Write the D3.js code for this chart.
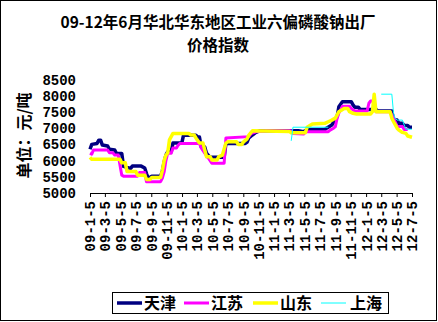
<!DOCTYPE html>
<html>
<head>
<meta charset="utf-8">
<script src="https://cdn.jsdelivr.net/npm/d3@7"></script>
<style>
body { margin:0; background:#fff; }
svg { display:block; }
</style>
</head>
<body>
<svg id="chart" width="438" height="322"></svg>
<script>
const titleLines = ["09-12年6月华北华东地区工业六偏磷酸钠出厂", "价格指数"];
const yAxisTitle = "单位：元/吨";
const seriesNames = ["天津", "江苏", "山东", "上海"];
const seriesColors = ["#000080", "#FF00FF", "#FFFF00", "#00FFFF"];
const xTickLabels = ["09-1-5","09-3-5","09-5-5","09-7-5","09-9-5","09-11-5","10-1-5","10-3-5","10-5-5","10-7-5","10-9-5","10-11-5","11-1-5","11-3-5","11-5-5","11-7-5","11-9-5","11-11-5","12-1-5","12-3-5","12-5-5","12-7-5"];
const yTicks = [5000,5500,6000,6500,7000,7500,8000,8500];

const tianjin = [["2009-01-05",6350],["2009-01-12",6500],["2009-02-02",6530],["2009-02-09",6630],["2009-02-16",6630],["2009-02-23",6480],["2009-03-16",6450],["2009-03-23",6350],["2009-04-13",6330],["2009-04-20",6220],["2009-05-11",6220],["2009-05-18",5820],["2009-06-15",5760],["2009-06-22",5830],["2009-07-27",5830],["2009-08-10",5770],["2009-08-17",5600],["2009-08-24",5450],["2009-09-07",5520],["2009-10-12",5520],["2009-10-19",5680],["2009-10-26",5950],["2009-11-02",6170],["2009-11-09",6270],["2009-11-23",6270],["2009-11-30",6540],["2010-01-04",6540],["2010-01-11",6790],["2010-03-01",6780],["2010-03-08",6730],["2010-03-15",6730],["2010-03-22",6420],["2010-04-05",6420],["2010-04-12",6230],["2010-04-26",6100],["2010-06-21",6100],["2010-06-28",6530],["2010-09-13",6530],["2010-09-20",6570],["2010-09-27",6700],["2010-10-11",6790],["2010-10-25",6870],["2010-11-08",6920],["2011-04-11",6920],["2011-05-02",6890],["2011-05-16",6960],["2011-07-25",6960],["2011-08-01",7000],["2011-08-22",7100],["2011-09-12",7350],["2011-09-19",7660],["2011-10-03",7820],["2011-11-07",7820],["2011-11-14",7720],["2011-11-21",7650],["2011-12-05",7650],["2011-12-12",7580],["2012-02-13",7580],["2012-02-20",7530],["2012-04-16",7530],["2012-04-23",7250],["2012-05-07",7250],["2012-05-14",7150],["2012-05-28",7150],["2012-06-04",7080],["2012-06-18",7080],["2012-06-25",7030],["2012-07-05",7030]];

const jiangsu = [["2009-01-05",6230],["2009-01-12",6200],["2009-01-19",6330],["2009-03-16",6330],["2009-03-23",6240],["2009-04-06",6240],["2009-04-13",6170],["2009-04-27",6170],["2009-05-04",5860],["2009-05-11",5550],["2009-05-18",5520],["2009-07-13",5520],["2009-07-20",5630],["2009-08-10",5630],["2009-08-17",5350],["2009-10-12",5350],["2009-10-19",5460],["2009-10-26",5650],["2009-11-02",6000],["2009-11-09",6230],["2009-11-23",6230],["2009-11-30",6390],["2009-12-14",6390],["2009-12-21",6480],["2009-12-28",6530],["2010-03-15",6530],["2010-03-22",6390],["2010-04-05",6230],["2010-04-19",6080],["2010-05-03",5920],["2010-06-21",5920],["2010-06-28",6700],["2010-09-27",6740],["2010-10-04",6820],["2010-10-11",6850],["2010-10-25",6890],["2010-12-06",6920],["2011-03-14",6920],["2011-03-21",6840],["2011-05-02",6820],["2011-05-09",6890],["2011-08-08",6890],["2011-08-15",6940],["2011-08-29",7000],["2011-09-05",7050],["2011-09-12",7310],["2011-09-19",7470],["2011-09-26",7560],["2011-10-03",7680],["2011-10-31",7680],["2011-11-07",7610],["2011-11-21",7530],["2012-01-09",7530],["2012-01-16",7770],["2012-01-23",7840],["2012-02-06",7840],["2012-02-13",7510],["2012-04-09",7510],["2012-04-23",7310],["2012-05-07",7050],["2012-05-28",7050],["2012-06-04",6960],["2012-06-18",6960]];

const shandong = [["2009-01-05",6100],["2009-01-12",6040],["2009-05-04",6040],["2009-05-11",5930],["2009-05-25",5930],["2009-06-01",5660],["2009-07-06",5660],["2009-07-13",5550],["2009-08-10",5550],["2009-08-17",5420],["2009-08-31",5420],["2009-09-07",5480],["2009-10-12",5480],["2009-10-19",5700],["2009-10-26",6000],["2009-11-02",6170],["2009-11-09",6230],["2009-11-16",6640],["2009-11-30",6840],["2010-02-01",6840],["2010-02-08",6790],["2010-02-22",6790],["2010-03-01",6700],["2010-03-15",6540],["2010-03-29",6540],["2010-04-05",6330],["2010-04-12",6120],["2010-04-26",6120],["2010-05-03",6020],["2010-05-24",6020],["2010-05-31",6120],["2010-06-14",6170],["2010-06-28",6540],["2010-07-05",6580],["2010-08-09",6580],["2010-08-16",6500],["2010-08-30",6500],["2010-09-06",6580],["2010-09-20",6670],["2010-09-27",6790],["2010-10-11",6920],["2011-03-07",6900],["2011-03-14",6860],["2011-05-09",6860],["2011-05-16",7030],["2011-06-06",7130],["2011-07-25",7150],["2011-08-08",7200],["2011-08-22",7250],["2011-09-05",7310],["2011-09-12",7410],["2011-09-19",7510],["2011-10-10",7610],["2011-10-24",7610],["2011-10-31",7510],["2011-11-14",7460],["2011-11-28",7440],["2012-01-23",7440],["2012-01-30",7510],["2012-02-06",8050],["2012-02-13",7510],["2012-04-09",7510],["2012-04-16",7310],["2012-04-23",7200],["2012-05-07",7000],["2012-05-14",6940],["2012-05-28",6870],["2012-06-11",6840],["2012-06-18",6760],["2012-07-05",6720]];

const shanghai = [["2011-03-14",6610],["2011-03-21",7030],["2011-08-08",7030],["2011-08-15",null],["2012-03-05",8050],["2012-04-16",8050],["2012-04-23",7450],["2012-04-30",7300],["2012-05-07",7250],["2012-05-28",7250],["2012-06-04",7100],["2012-06-11",6970],["2012-07-05",6970]];

const allSeries = [tianjin, jiangsu, shandong, shanghai];
const seriesWidths = [3.5, 3, 3.5, 1];

const parse = d3.timeParse("%Y-%m-%d");
const labelDate = s => { const p = s.split("-"); return new Date(2000 + +p[0], +p[1] - 1, +p[2]); };

const svg = d3.select("#chart");
svg.append("rect").attr("x",0.5).attr("y",0.5).attr("width",436).attr("height",320)
  .attr("fill","#fff").attr("stroke","#000").attr("stroke-width",1);

const cjk = "'Noto Sans CJK SC', sans-serif";
const mono = "'Liberation Mono', 'DejaVu Sans Mono', monospace";

titleLines.forEach((t,i) => svg.append("text").attr("text-anchor","middle")
  .attr("font-family", cjk).attr("font-weight","bold").attr("font-size",15.5)
  .attr("x",218).attr("y",28 + i*22.5).text(t));

const x = d3.scaleTime().domain([labelDate(xTickLabels[0]), labelDate(xTickLabels[xTickLabels.length-1])]).range([90, 412]);
const y = d3.scaleLinear().domain([5000, 8500]).range([193, 79.6]);

// y axis labels (no line)
const yAx = svg.append("g").attr("transform","translate(90,0)")
  .call(d3.axisLeft(y).tickValues(yTicks).tickSize(0).tickPadding(14).tickFormat(d3.format("d")));
yAx.select(".domain").remove();
yAx.selectAll("text").attr("font-family", mono).attr("font-weight","bold").attr("font-size",14).attr("fill","#000");

// x axis
const tickDates = xTickLabels.map(labelDate);
const xAx = svg.append("g").attr("transform","translate(0,193)")
  .call(d3.axisBottom(x).tickValues(tickDates).tickSize(4).tickSizeOuter(0)
    .tickFormat((d,i) => xTickLabels[i]));
xAx.select(".domain").attr("stroke","#000");
xAx.selectAll(".tick line").attr("stroke","#000");
xAx.selectAll("text")
  .attr("font-family", mono).attr("font-weight","bold").attr("font-size",14).attr("fill","#000")
  .attr("text-anchor","end").attr("transform","rotate(-90)")
  .attr("x",-8).attr("y",0).attr("dy","0.35em");

// y title
svg.append("text").attr("transform","translate(30,135.5) rotate(-90)")
  .attr("text-anchor","middle").attr("font-family", cjk).attr("font-weight","bold")
  .attr("font-size",16).text(yAxisTitle);

// lines
const line = d3.line().defined(d => d[1] !== null)
  .x(d => x(parse(d[0]))).y(d => y(d[1]));
allSeries.forEach((s,i) => {
  svg.append("path").datum(s).attr("d", line)
    .attr("fill","none").attr("stroke", seriesColors[i]).attr("stroke-width", seriesWidths[i])
    .attr("stroke-linejoin","round");
});

// legend
svg.append("rect").attr("x",112.5).attr("y",292.5).attr("width",276).attr("height",21)
  .attr("fill","#fff").attr("stroke","#000");
const legX = [117, 184, 253, 321];
seriesNames.forEach((n,i) => {
  svg.append("line").attr("x1",legX[i]).attr("x2",legX[i]+25).attr("y1",303).attr("y2",303)
    .attr("stroke", seriesColors[i]).attr("stroke-width", seriesWidths[i]);
  svg.append("text").attr("x", legX[i]+27 + (i===3?2:0)).attr("y",309)
    .attr("font-family", cjk).attr("font-weight","bold").attr("font-size",16).text(n);
});
</script>
</body>
</html>
